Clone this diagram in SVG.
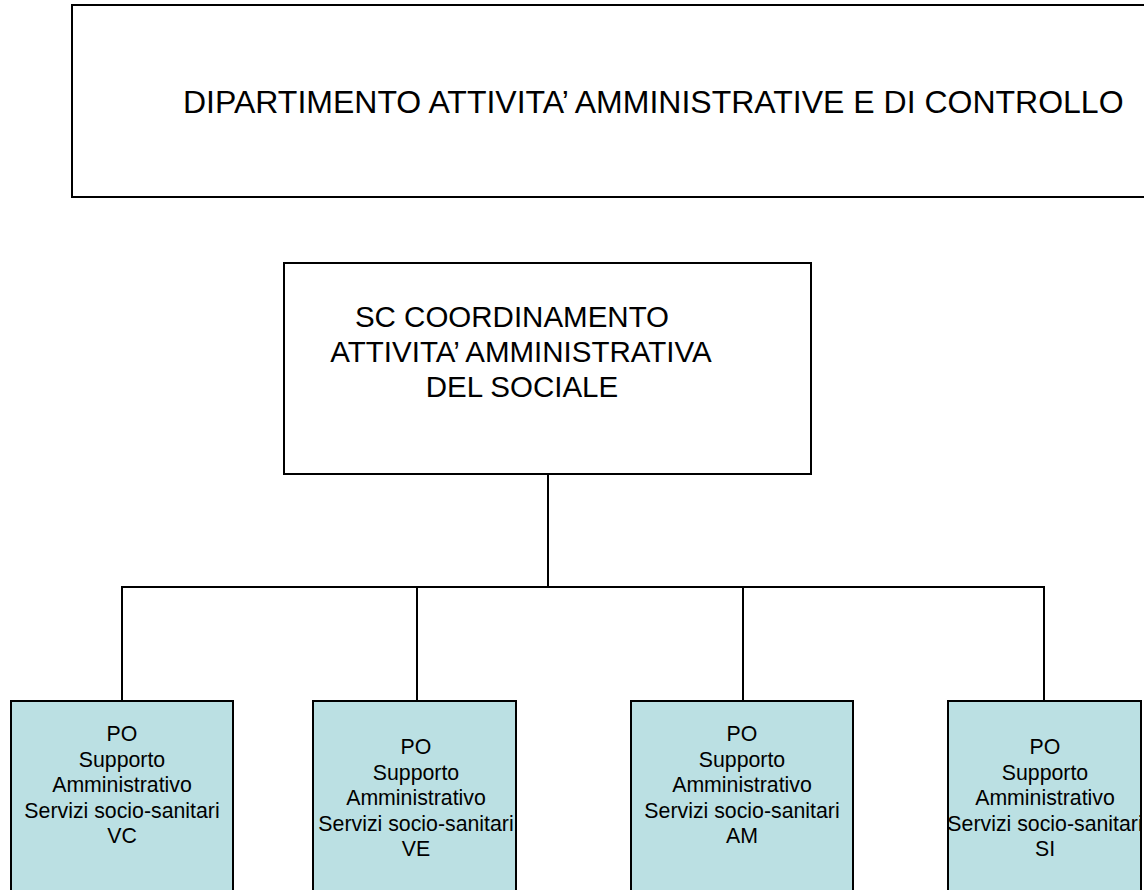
<svg xmlns="http://www.w3.org/2000/svg" width="1144" height="890" viewBox="0 0 1144 890">
<style>
.box{fill:#ffffff;stroke:#000;stroke-width:2}
.po{fill:#BBE0E3;stroke:#000;stroke-width:2}
.big{font-family:"Liberation Sans",Arial,sans-serif;font-size:32px;fill:#000}
.sc{font-family:"Liberation Sans",Arial,sans-serif;font-size:29.5px;fill:#000;text-anchor:middle}
.sm{font-family:"Liberation Sans",Arial,sans-serif;font-size:21.3px;fill:#000;text-anchor:middle}
.conn{fill:none;stroke:#000;stroke-width:2}
</style>
<rect width="1144" height="890" fill="#fff"/>
<g id="dipartimento">
<rect class="box" x="72" y="5" width="1090" height="192"/>
<text class="big" x="183" y="113">DIPARTIMENTO ATTIVITA’ AMMINISTRATIVE E DI CONTROLLO</text>
</g>
<g id="sc">
<rect class="box" x="284" y="263" width="527" height="211"/>
<text class="sc" x="512" y="327">SC COORDINAMENTO</text>
<text class="sc" x="521" y="362">ATTIVITA’ AMMINISTRATIVA</text>
<text class="sc" x="522" y="397">DEL SOCIALE</text>
</g>
<g id="connectors">
<path class="conn" d="M548 474 V587"/>
<path class="conn" d="M122 701 V587 H1044 V701"/>
<path class="conn" d="M417 587 V701"/>
<path class="conn" d="M743 587 V701"/>
</g>
<g id="po-vc">
<rect class="po" x="11" y="701" width="222" height="200"/>
<text class="sm" x="122" y="741">PO</text>
<text class="sm" x="122" y="766.5">Supporto</text>
<text class="sm" x="122" y="792">Amministrativo</text>
<text class="sm" x="122" y="817.5">Servizi socio-sanitari</text>
<text class="sm" x="122" y="843">VC</text>
</g>
<g id="po-ve">
<rect class="po" x="313" y="701" width="203" height="200"/>
<text class="sm" x="416" y="754">PO</text>
<text class="sm" x="416" y="779.5">Supporto</text>
<text class="sm" x="416" y="805">Amministrativo</text>
<text class="sm" x="416" y="830.5">Servizi socio-sanitari</text>
<text class="sm" x="416" y="856">VE</text>
</g>
<g id="po-am">
<rect class="po" x="631" y="701" width="222" height="200"/>
<text class="sm" x="742" y="741">PO</text>
<text class="sm" x="742" y="766.5">Supporto</text>
<text class="sm" x="742" y="792">Amministrativo</text>
<text class="sm" x="742" y="817.5">Servizi socio-sanitari</text>
<text class="sm" x="742" y="843">AM</text>
</g>
<g id="po-si">
<rect class="po" x="948" y="701" width="193" height="200"/>
<text class="sm" x="1045" y="754">PO</text>
<text class="sm" x="1045" y="779.5">Supporto</text>
<text class="sm" x="1045" y="805">Amministrativo</text>
<text class="sm" x="1045" y="830.5">Servizi socio-sanitari</text>
<text class="sm" x="1045" y="856">SI</text>
</g>
</svg>
